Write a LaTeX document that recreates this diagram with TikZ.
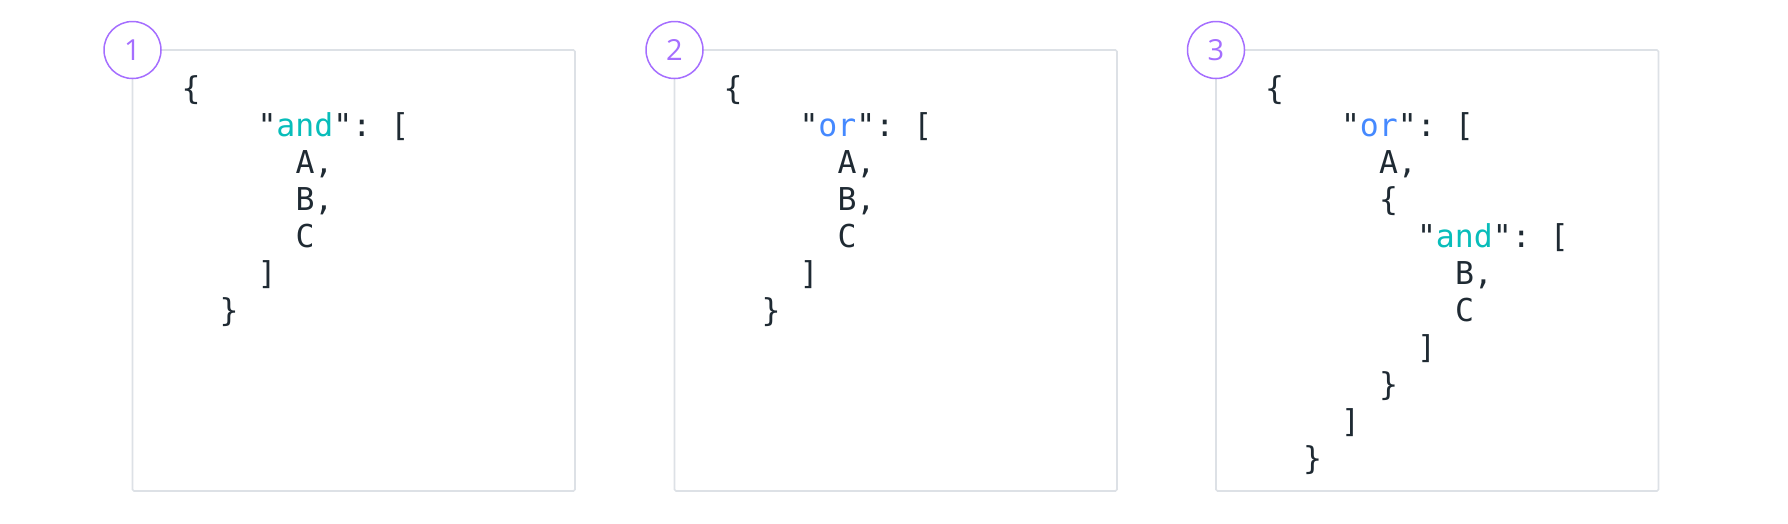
\documentclass[tikz,border=0pt]{standalone}
\usepackage{fontspec}
\newfontfamily\codefont{DejaVu Sans Mono}
\newfontfamily\numfont{Open Sans}
\definecolor{codedark}{HTML}{1F2A33}
\definecolor{andteal}{HTML}{08BDBA}
\definecolor{orblue}{HTML}{4589FF}
\definecolor{stepviolet}{HTML}{A56EFF}
\definecolor{boxgray}{HTML}{DDE1E6}
\frenchspacing
\tikzset{
  codebox/.style={draw=boxgray, line width=1.6pt, rounded corners=1.5pt},
  codeline/.style={anchor=base west, inner sep=0pt, outer sep=0pt, text=codedark,
    font=\codefont\fontsize{31.5}{37}\selectfont\frenchspacing},
  stepnum/.style={circle, draw=stepviolet, fill=white, line width=1.5pt,
    minimum size=57pt, inner sep=0pt, text=stepviolet,
    font=\numfont\fontsize{29}{32}\selectfont},
}
\newcommand{\kwand}{"\textcolor{andteal}{and}": [}
\newcommand{\kwor}{"\textcolor{orblue}{or}": [}
\begin{document}
\begin{tikzpicture}[x=1pt,y=-1pt]
\useasboundingbox (0,0) rectangle (1788,523);

% ---- box 1 ----
\begin{scope}[shift={(132.5,50)}]
  \draw[codebox] (0,0) coordinate (b1nw) rectangle (442.5,441) coordinate (b1se);
  \node[codeline] (a0) at (49+19*0, 49+37*0) {\{};
  \node[codeline] (a1) at (49+19*4, 49+37*1) {\kwand};
  \node[codeline] (a2) at (49+19*6, 49+37*2) {A,};
  \node[codeline] (a3) at (49+19*6, 49+37*3) {B,};
  \node[codeline] (a4) at (49+19*6, 49+37*4) {C};
  \node[codeline] (a5) at (49+19*4, 49+37*5) {]};
  \node[codeline] (a6) at (49+19*2, 49+37*6) {\}};
  \node[stepnum] (n1) at (b1nw) {1};
\end{scope}

% ---- box 2 ----
\begin{scope}[shift={(674.5,50)}]
  \draw[codebox] (0,0) coordinate (b2nw) rectangle (442.5,441) coordinate (b2se);
  \node[codeline] (c0) at (49+19*0, 49+37*0) {\{};
  \node[codeline] (c1) at (49+19*4, 49+37*1) {\kwor};
  \node[codeline] (c2) at (49+19*6, 49+37*2) {A,};
  \node[codeline] (c3) at (49+19*6, 49+37*3) {B,};
  \node[codeline] (c4) at (49+19*6, 49+37*4) {C};
  \node[codeline] (c5) at (49+19*4, 49+37*5) {]};
  \node[codeline] (c6) at (49+19*2, 49+37*6) {\}};
  \node[stepnum] (n2) at (b2nw) {2};
\end{scope}

% ---- box 3 ----
\begin{scope}[shift={(1216,50)}]
  \draw[codebox] (0,0) coordinate (b3nw) rectangle (442.5,441) coordinate (b3se);
  \node[codeline] (e0) at (49+19*0, 49+37*0) {\{};
  \node[codeline] (e1) at (49+19*4, 49+37*1) {\kwor};
  \node[codeline] (e2) at (49+19*6, 49+37*2) {A,};
  \node[codeline] (e3) at (49+19*6, 49+37*3) {\{};
  \node[codeline] (e4) at (49+19*8, 49+37*4) {\kwand};
  \node[codeline] (e5) at (49+19*10, 49+37*5) {B,};
  \node[codeline] (e6) at (49+19*10, 49+37*6) {C};
  \node[codeline] (e7) at (49+19*8, 49+37*7) {]};
  \node[codeline] (e8) at (49+19*6, 49+37*8) {\}};
  \node[codeline] (e9) at (49+19*4, 49+37*9) {]};
  \node[codeline] (e10) at (49+19*2, 49+37*10) {\}};
  \node[stepnum] (n3) at (b3nw) {3};
\end{scope}
\end{tikzpicture}
\end{document}
